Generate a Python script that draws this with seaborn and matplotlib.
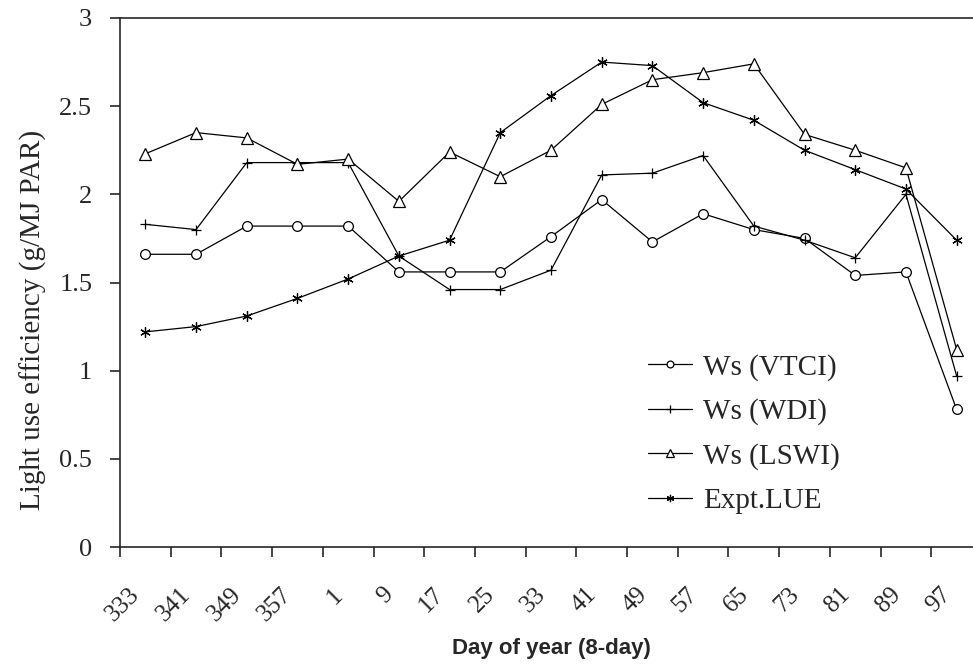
import numpy as np
import pandas as pd
import matplotlib
matplotlib.use('Agg')
import matplotlib.pyplot as plt
import matplotlib.transforms as mtransforms
import seaborn as sns

days = ['333', '341', '349', '357', '1', '9', '17', '25', '33', '41',
        '49', '57', '65', '73', '81', '89', '97']
vtci = [1.66, 1.66, 1.82, 1.82, 1.82, 1.56, 1.56, 1.56, 1.76, 1.97,
        1.73, 1.89, 1.80, 1.75, 1.54, 1.56, 0.78]
wdi = [1.83, 1.80, 2.18, 2.18, 2.18, 1.65, 1.46, 1.46, 1.57, 2.11,
       2.12, 2.22, 1.82, 1.74, 1.64, 2.00, 0.97]
lswi = [2.23, 2.35, 2.32, 2.17, 2.20, 1.96, 2.24, 2.10, 2.25, 2.51,
        2.65, 2.69, 2.74, 2.34, 2.25, 2.15, 1.12]
expt = [1.22, 1.25, 1.31, 1.41, 1.52, 1.65, 1.74, 2.35, 2.56, 2.75,
        2.73, 2.52, 2.42, 2.25, 2.14, 2.03, 1.74]

names = ['Ws (VTCI)', 'Ws (WDI)', 'Ws (LSWI)', 'Expt.LUE']
series = [vtci, wdi, lswi, expt]
markers = ['o', '+', '^', (6, 2, 0)]
sizes = [7, 7.5, 8, 7.5]

sns.set_style('ticks')
plt.rcParams['font.family'] = ['Liberation Serif', 'DejaVu Serif']

fig = plt.figure(figsize=(9.73, 6.64), dpi=100)
ax = fig.add_axes([120 / 973, (664 - 547) / 664, 862 / 973, 529 / 664])

pos = np.arange(len(days))
for name, vals, mk, ms in zip(names, series, markers, sizes):
    df = pd.DataFrame({'x': pos, 'y': vals})
    sns.lineplot(data=df, x='x', y='y', ax=ax, color='black', linewidth=0.9,
                 marker=mk, markersize=ms, markerfacecolor='white',
                 markeredgecolor='black', markeredgewidth=0.9, label=name)

ax.set_xlim(-0.5, len(days) - 0.5)
ax.set_ylim(0, 3)
ax.set_yticks(np.arange(0, 3.01, 0.5))
ax.set_yticklabels(['0', '0.5', '1', '1.5', '2', '2.5', '3'], fontsize=19)
ax.set_xticks(pos)
ax.set_xticklabels(days, rotation=45, ha='right', va='center',
                   rotation_mode='anchor', fontsize=18)
ax.set_xticks(np.arange(-0.5, len(days)), minor=True)
ax.tick_params(axis='x', which='major', length=0, pad=32)
ax.tick_params(axis='x', which='minor', length=7, width=1.2, direction='out')
ax.tick_params(axis='y', length=7, width=1.2, direction='out', pad=13)
shift = mtransforms.ScaledTranslation(-9 / 100, 0, fig.dpi_scale_trans)
for lab in ax.get_xticklabels():
    lab.set_transform(lab.get_transform() + shift)
for sp in ax.spines.values():
    sp.set_linewidth(1.2)

ax.set_ylabel('Light use efficiency (g/MJ PAR)', fontsize=21)
ax.yaxis.set_label_coords(-0.085, 0.43)
ax.set_xlabel('Day of year (8-day)', fontsize=16, fontweight='bold',
              family=['Liberation Sans', 'DejaVu Sans'])
ax.xaxis.set_label_coords(0.5, -0.172)

leg = ax.legend(loc='upper left', bbox_to_anchor=(648 / 973, 1 - 354 / 664),
                bbox_transform=fig.transFigure, frameon=False, fontsize=21,
                handlelength=1.5, labelspacing=0.6, borderpad=0, borderaxespad=0,
                handletextpad=0.4, markerscale=0.7)

fig.savefig('out.png', dpi=100)
